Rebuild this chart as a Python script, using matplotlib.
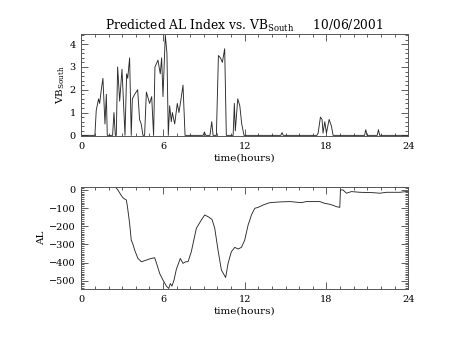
import numpy as np
import matplotlib
matplotlib.use("Agg")
import matplotlib.pyplot as plt
from matplotlib.ticker import MultipleLocator

plt.rcParams['font.family'] = ['DejaVu Serif']
plt.rcParams['mathtext.fontset'] = 'dejavuserif'

# southward IMF component (time in hours, VB_south)
vb_t = [0.0, 1.0, 1.10, 1.27, 1.35, 1.47, 1.59, 1.74, 1.84, 1.91,
        2.30, 2.40, 2.50, 2.57, 2.67, 2.82, 2.99, 3.21, 3.33, 3.41, 3.55, 3.67,
        3.75, 3.92, 4.14, 4.28, 4.40, 4.53,
        4.65, 4.78, 5.02, 5.17, 5.31,
        5.41, 5.63, 5.80, 5.90, 6.00, 6.17, 6.29, 6.39,
        6.49, 6.61, 6.69, 6.86, 7.05, 7.17, 7.30, 7.47, 7.62,
        8.95, 9.04, 9.14, 9.45, 9.58, 9.68,
        9.92, 10.07, 10.22, 10.36, 10.53, 10.65,
        11.15, 11.24, 11.31, 11.49, 11.64, 11.78, 11.95,
        14.65, 14.74, 14.83,
        17.30, 17.39, 17.56, 17.68, 17.75, 17.88, 18.00, 18.20, 18.37, 18.49,
        20.80, 20.89, 20.98, 21.73, 21.82, 21.91, 24.0]
vb_s = [0.0, 0.0, 1.1, 1.6, 1.4, 2.0, 2.5, 0.5, 1.8, 0.0,
        0.0, 1.0, 0.0, 0.0, 3.0, 1.5, 2.9, 0.0, 2.7, 2.5, 3.4, 0.0,
        1.6, 1.8, 2.0, 0.7, 0.5, 0.0,
        0.0, 1.9, 1.4, 1.7, 0.0,
        3.0, 3.3, 2.7, 3.4, 1.7, 4.4, 3.6, 0.0,
        1.3, 0.6, 1.0, 0.5, 1.4, 1.0, 1.5, 2.2, 0.0,
        0.0, 0.15, 0.0, 0.0, 0.6, 0.0,
        0.0, 3.5, 3.4, 3.2, 3.8, 0.0,
        0.0, 1.4, 0.2, 1.6, 1.3, 0.5, 0.0,
        0.0, 0.12, 0.0,
        0.0, 0.1, 0.8, 0.7, 0.1, 0.6, 0.1, 0.7, 0.4, 0.0,
        0.0, 0.25, 0.0, 0.0, 0.25, 0.0, 0.0]

# predicted AL index (time in hours, nT)
al_t = [2.40, 2.52, 2.69, 2.94, 3.10, 3.31, 3.39, 3.55, 3.67, 3.80, 3.92, 4.16,
        4.41, 4.78, 5.00, 5.14, 5.39, 5.51, 5.76, 6.00, 6.25, 6.42, 6.54, 6.66,
        6.81, 6.98, 7.27, 7.47, 7.67, 7.84, 8.08, 8.45, 8.82, 9.06, 9.31, 9.60,
        9.80, 10.04, 10.29, 10.60, 10.78, 11.02, 11.27, 11.51, 11.76, 12.00,
        12.25, 12.40, 12.49, 12.74, 12.98, 13.35, 13.84, 14.57, 15.31, 16.16,
        16.53, 17.51, 17.88, 18.25, 18.50, 18.74, 18.98, 19.03, 19.22, 19.47,
        19.84, 20.45, 21.43, 21.92, 22.41, 23.39, 23.88, 24.0]
al_v = [20, 15, 0, -31, -46, -55, -92, -184, -276, -300, -331, -377,
        -395, -386, -380, -377, -373, -400, -460, -496, -529, -542, -515, -529,
        -496, -437, -377, -404, -395, -395, -340, -211, -165, -138, -147, -162,
        -211, -331, -441, -482, -404, -340, -316, -325, -316, -276,
        -193, -160, -138, -101, -96, -83, -70, -66, -64, -70,
        -64, -64, -74, -79, -85, -92, -96, 0, 0, -18,
        -9, -13, -15, -18, -13, -13, -9, -10]

fig = plt.figure(figsize=(4.54, 3.41), dpi=100)
ax1 = fig.add_axes([0.179, 0.601, 0.720, 0.299])
ax2 = fig.add_axes([0.179, 0.152, 0.720, 0.299])

line_kw = dict(color='#2a2a2a', lw=0.65)
ax1.plot(vb_t, vb_s, **line_kw)
ax2.plot(al_t, al_v, **line_kw)

for ax in (ax1, ax2):
    ax.set_xlim(0, 24)
    ax.xaxis.set_major_locator(MultipleLocator(6))
    ax.xaxis.set_minor_locator(MultipleLocator(1))
    ax.tick_params(which='both', direction='in', top=True, right=True,
                   labelsize=7, width=0.6, color='#444444', pad=4)
    ax.tick_params(which='major', length=5)
    ax.tick_params(which='minor', length=2.5)
    for sp in ax.spines.values():
        sp.set_linewidth(0.7)
        sp.set_color('#555555')
    ax.set_xlabel('time(hours)', fontsize=7.5, labelpad=2)

ax1.set_ylim(-0.03, 4.44)
ax1.yaxis.set_major_locator(MultipleLocator(1))
ax1.yaxis.set_minor_locator(MultipleLocator(0.2))
ax1.set_ylabel(r'VB$_{\mathrm{South}}$', fontsize=7.5, labelpad=2)
ax1.set_title(r'Predicted AL Index vs. VB$_{\mathrm{South}}$     10/06/2001',
              fontsize=8.8, pad=2)

ax2.set_ylim(-546, 15)
ax2.yaxis.set_major_locator(MultipleLocator(100))
ax2.yaxis.set_minor_locator(MultipleLocator(10))
ax2.set_ylabel('AL', fontsize=7.5, labelpad=2)

fig.savefig('out.png', dpi=100)
